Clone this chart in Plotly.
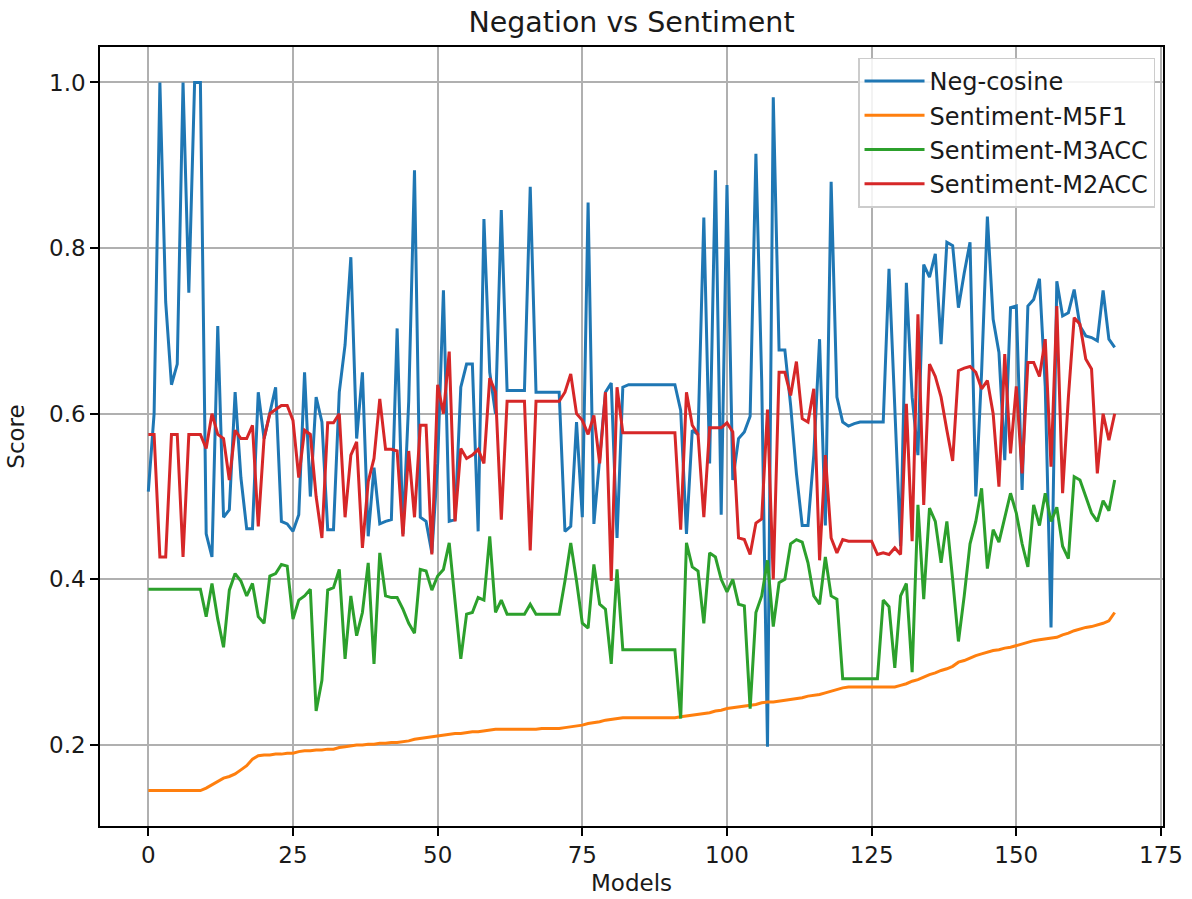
import plotly.graph_objects as go

models = list(range(168))

neg_cosine = [
    0.506, 0.600, 1.000, 0.735, 0.635, 0.660, 1.000, 0.746, 1.000, 1.000,
    0.455, 0.427, 0.706, 0.475, 0.484, 0.626, 0.523, 0.461, 0.461, 0.626,
    0.570, 0.600, 0.632, 0.470, 0.467, 0.458, 0.478, 0.650, 0.500, 0.620,
    0.590, 0.460, 0.460, 0.626, 0.683, 0.789, 0.570, 0.650, 0.452, 0.535,
    0.467, 0.470, 0.472, 0.703, 0.455, 0.615, 0.894, 0.475, 0.470, 0.432,
    0.540, 0.749, 0.470, 0.472, 0.632, 0.660, 0.660, 0.458, 0.835, 0.650,
    0.600, 0.846, 0.628, 0.628, 0.628, 0.628, 0.874, 0.626, 0.626, 0.626,
    0.626, 0.626, 0.458, 0.464, 0.590, 0.475, 0.855, 0.467, 0.546, 0.626,
    0.637, 0.450, 0.632, 0.635, 0.635, 0.635, 0.635, 0.635, 0.635, 0.635,
    0.635, 0.635, 0.604, 0.455, 0.580, 0.575, 0.837, 0.540, 0.894, 0.478,
    0.876, 0.520, 0.570, 0.578, 0.597, 0.914, 0.640, 0.198, 0.982, 0.677,
    0.677, 0.610, 0.528, 0.465, 0.465, 0.550, 0.690, 0.465, 0.880, 0.620,
    0.590, 0.585, 0.588, 0.590, 0.590, 0.590, 0.590, 0.590, 0.775, 0.600,
    0.440, 0.758, 0.620, 0.550, 0.780, 0.765, 0.793, 0.684, 0.807, 0.803,
    0.728, 0.770, 0.807, 0.500, 0.650, 0.838, 0.714, 0.674, 0.544, 0.728,
    0.730, 0.508, 0.730, 0.738, 0.763, 0.633, 0.342, 0.760, 0.718, 0.722,
    0.750, 0.706, 0.694, 0.692, 0.688, 0.749, 0.690, 0.680,
]

sent_m5f1 = [
    0.145, 0.145, 0.145, 0.145, 0.145, 0.145, 0.145, 0.145, 0.145, 0.145,
    0.148, 0.152, 0.156, 0.160, 0.162, 0.165, 0.170, 0.175, 0.183, 0.187,
    0.188, 0.188, 0.189, 0.189, 0.190, 0.190, 0.192, 0.193, 0.193, 0.194,
    0.194, 0.195, 0.195, 0.197, 0.198, 0.199, 0.200, 0.200, 0.201, 0.201,
    0.202, 0.202, 0.203, 0.203, 0.204, 0.205, 0.207, 0.208, 0.209, 0.210,
    0.211, 0.212, 0.213, 0.214, 0.214, 0.215, 0.216, 0.216, 0.217, 0.218,
    0.219, 0.219, 0.219, 0.219, 0.219, 0.219, 0.219, 0.219, 0.220, 0.220,
    0.220, 0.220, 0.221, 0.222, 0.223, 0.224, 0.226, 0.227, 0.228, 0.230,
    0.231, 0.232, 0.233, 0.233, 0.233, 0.233, 0.233, 0.233, 0.233, 0.233,
    0.233, 0.233, 0.234, 0.235, 0.236, 0.237, 0.238, 0.239, 0.241, 0.242,
    0.244, 0.245, 0.246, 0.247, 0.248, 0.249, 0.251, 0.252, 0.252, 0.253,
    0.254, 0.255, 0.256, 0.257, 0.259, 0.260, 0.261, 0.263, 0.265, 0.267,
    0.269, 0.270, 0.270, 0.270, 0.270, 0.270, 0.270, 0.270, 0.270, 0.270,
    0.272, 0.274, 0.277, 0.279, 0.282, 0.285, 0.287, 0.290, 0.292, 0.295,
    0.300, 0.302, 0.305, 0.308, 0.310, 0.312, 0.314, 0.315, 0.317, 0.318,
    0.320, 0.322, 0.324, 0.326, 0.327, 0.328, 0.329, 0.330, 0.333, 0.335,
    0.338, 0.340, 0.342, 0.343, 0.345, 0.347, 0.350, 0.360,
]

sent_m3acc = [
    0.388, 0.388, 0.388, 0.388, 0.388, 0.388, 0.388, 0.388, 0.388, 0.388,
    0.355, 0.395, 0.352, 0.318, 0.387, 0.407, 0.398, 0.380, 0.395, 0.355,
    0.347, 0.404, 0.407, 0.418, 0.416, 0.352, 0.375, 0.380, 0.388, 0.241,
    0.278, 0.387, 0.390, 0.412, 0.304, 0.380, 0.332, 0.360, 0.420, 0.298,
    0.432, 0.380, 0.378, 0.378, 0.364, 0.347, 0.335, 0.412, 0.410, 0.387,
    0.404, 0.412, 0.444, 0.370, 0.304, 0.358, 0.360, 0.378, 0.375, 0.452,
    0.360, 0.375, 0.358, 0.358, 0.358, 0.358, 0.370, 0.358, 0.358, 0.358,
    0.358, 0.358, 0.398, 0.444, 0.398, 0.347, 0.341, 0.418, 0.370, 0.364,
    0.298, 0.412, 0.315, 0.315, 0.315, 0.315, 0.315, 0.315, 0.315, 0.315,
    0.315, 0.315, 0.232, 0.444, 0.415, 0.410, 0.347, 0.432, 0.427, 0.400,
    0.385, 0.400, 0.370, 0.368, 0.244, 0.360, 0.380, 0.423, 0.343, 0.396,
    0.400, 0.443, 0.448, 0.445, 0.420, 0.380, 0.370, 0.427, 0.380, 0.376,
    0.280, 0.280, 0.280, 0.280, 0.280, 0.280, 0.280, 0.375, 0.367, 0.293,
    0.380, 0.395, 0.288, 0.490, 0.376, 0.486, 0.470, 0.420, 0.470, 0.400,
    0.325, 0.380, 0.443, 0.470, 0.510, 0.413, 0.460, 0.445, 0.475, 0.504,
    0.480, 0.443, 0.415, 0.490, 0.465, 0.504, 0.470, 0.487, 0.440, 0.425,
    0.524, 0.520, 0.500, 0.480, 0.470, 0.495, 0.483, 0.520,
]

sent_m2acc = [
    0.575, 0.575, 0.427, 0.427, 0.575, 0.575, 0.427, 0.575, 0.575, 0.575,
    0.558, 0.600, 0.575, 0.570, 0.520, 0.580, 0.570, 0.570, 0.586, 0.464,
    0.570, 0.600, 0.605, 0.610, 0.610, 0.592, 0.523, 0.580, 0.575, 0.500,
    0.450, 0.589, 0.589, 0.600, 0.475, 0.550, 0.566, 0.438, 0.518, 0.546,
    0.618, 0.557, 0.557, 0.555, 0.452, 0.555, 0.475, 0.586, 0.586, 0.430,
    0.635, 0.600, 0.675, 0.470, 0.558, 0.546, 0.550, 0.557, 0.540, 0.643,
    0.626, 0.472, 0.615, 0.615, 0.615, 0.615, 0.435, 0.615, 0.615, 0.615,
    0.615, 0.615, 0.626, 0.648, 0.600, 0.592, 0.575, 0.598, 0.540, 0.626,
    0.398, 0.632, 0.577, 0.577, 0.577, 0.577, 0.577, 0.577, 0.577, 0.577,
    0.577, 0.577, 0.460, 0.626, 0.586, 0.575, 0.475, 0.583, 0.583, 0.583,
    0.589, 0.578, 0.450, 0.448, 0.430, 0.468, 0.473, 0.605, 0.400, 0.650,
    0.650, 0.622, 0.663, 0.594, 0.590, 0.630, 0.423, 0.550, 0.450, 0.432,
    0.448, 0.446, 0.446, 0.446, 0.446, 0.446, 0.430, 0.432, 0.430, 0.438,
    0.430, 0.612, 0.446, 0.720, 0.490, 0.660, 0.645, 0.620, 0.580, 0.543,
    0.652, 0.655, 0.657, 0.650, 0.630, 0.640, 0.600, 0.512, 0.672, 0.552,
    0.633, 0.528, 0.662, 0.662, 0.645, 0.690, 0.536, 0.730, 0.504, 0.620,
    0.716, 0.708, 0.666, 0.654, 0.528, 0.600, 0.568, 0.600,
]

x_ticks = [0, 25, 50, 75, 100, 125, 150, 175]
y_ticks = [0.2, 0.4, 0.6, 0.8, 1.0]

series = [
    ("Neg-cosine", neg_cosine, "#1f77b4"),
    ("Sentiment-M5F1", sent_m5f1, "#ff7f0e"),
    ("Sentiment-M3ACC", sent_m3acc, "#2ca02c"),
    ("Sentiment-M2ACC", sent_m2acc, "#d62728"),
]

fig = go.Figure()
for name, vals, color in series:
    fig.add_trace(go.Scatter(x=models, y=vals, mode="lines", name=name,
                             line=dict(color=color, width=3)))

font_family = "DejaVu Sans"
text_color = "#1a1a1a"
fig.update_layout(
    width=1192, height=899,
    margin=dict(l=100, r=29, t=47, b=73, autoexpand=False),
    paper_bgcolor="white", plot_bgcolor="white",
    font=dict(family=font_family, size=23, color=text_color),
    title=dict(text="Negation vs Sentiment", x=0.5, xref="paper", xanchor="center",
               y=1 - 22 / 899, yanchor="middle", yref="container",
               font=dict(size=28.5, color=text_color)),
    showlegend=True,
    legend=dict(x=0.9925, y=0.9865, xanchor="right", yanchor="top",
                bgcolor="rgba(255,255,255,0.85)", bordercolor="#cccccc",
                borderwidth=1.5, font=dict(size=24, color=text_color),
                itemwidth=60, tracegroupgap=0),
)
fig.update_xaxes(
    range=[-8.35, 175.35], tickvals=x_ticks, ticktext=[str(v) for v in x_ticks],
    automargin=False,
    showgrid=True, gridcolor="#b0b0b0", gridwidth=1.5, zeroline=False,
    showline=True, linecolor="black", linewidth=1.5, mirror=True,
    ticks="outside", ticklen=8, tickwidth=1.5, tickcolor="black",
    tickfont=dict(size=23),
    title=dict(text="Models", standoff=8, font=dict(size=23)),
)
fig.update_yaxes(
    range=[0.1022, 1.0428], tickvals=y_ticks, ticktext=[f"{v:.1f}" for v in y_ticks],
    automargin=False,
    showgrid=True, gridcolor="#b0b0b0", gridwidth=1.5, zeroline=False,
    showline=True, linecolor="black", linewidth=1.5, mirror=True,
    ticks="outside", ticklen=8, tickwidth=1.5, tickcolor="black",
    tickfont=dict(size=23),
    title=dict(text="Score", standoff=18, font=dict(size=23)),
)

fig.write_html(
    "out.html",
    config={"displayModeBar": False},
    post_script="document.body.style.margin='0';document.body.style.padding='0';",
)
